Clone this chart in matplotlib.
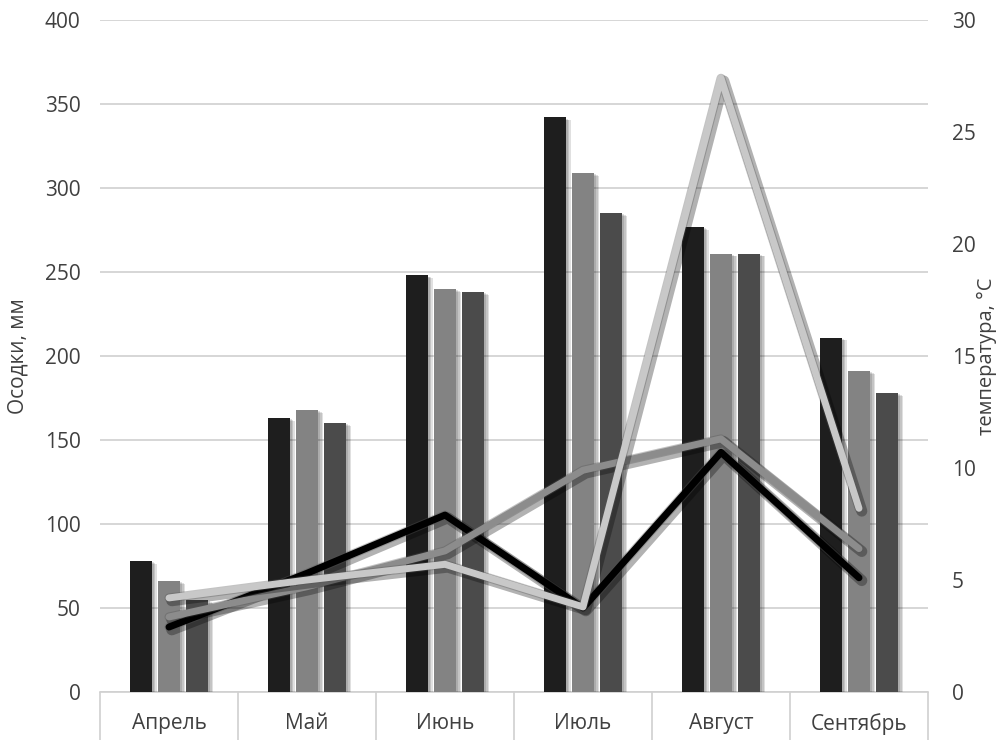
import matplotlib
matplotlib.use("Agg")
import matplotlib.pyplot as plt
import matplotlib.patheffects as pe
import numpy as np

months = ['Апрель', 'Май', 'Июнь', 'Июль', 'Август', 'Сентябрь']
precip_a = [78, 163, 248, 342, 277, 211]
precip_b = [66, 168, 240, 309, 261, 191]
precip_c = [55, 160, 238, 285, 261, 178]
temp_black = [2.9, 5.3, 7.9, 3.75, 10.7, 5.1]
temp_grey = [3.35, 4.7, 6.3, 9.9, 11.3, 6.4]
temp_light = [4.2, 5.0, 5.7, 3.8, 27.4, 8.2]
left_ticks = [0, 50, 100, 150, 200, 250, 300, 350, 400]
right_ticks = [0, 5, 10, 15, 20, 25, 30]

plt.rcParams['font.family'] = ['Open Sans', 'DejaVu Sans']
txt = '#404040'

fig = plt.figure(figsize=(10.04, 7.40), dpi=100)
ax = fig.add_axes([100/1004, 48/740, 828/1004, 672/740])
x = np.arange(len(months))
w = 0.16
step = 0.203
bar_colors = ['#1e1e1e', '#838383', '#4b4b4b']
shadow = [pe.SimplePatchShadow(offset=(o, -o * 0.6), shadow_rgbFace='k', alpha=0.12) for o in (3.5, 2.5, 1.5)] + [pe.Normal()]
for i, (vals, c) in enumerate(zip([precip_a, precip_b, precip_c], bar_colors)):
    ax.bar(x + (i - 1) * step, vals, width=w, color=c, zorder=3, path_effects=shadow)

ax.set_xlim(-0.5, len(months) - 0.5)
ax.set_ylim(0, 400)
ax.set_yticks(left_ticks)
ax.grid(axis='y', color='#d0d0d0', linewidth=1.2, zorder=0)
ax.set_axisbelow(True)
for s in ['left', 'right', 'top']:
    ax.spines[s].set_visible(False)
ax.spines['bottom'].set_color('#d0d0d0')
ax.spines['bottom'].set_linewidth(1.2)
ax.set_xticks(x)
ax.set_xticklabels(months)
ax.set_xticks(np.arange(-0.5, len(months)), minor=True)
ax.tick_params(axis='x', which='major', length=0, pad=15, labelsize=15, labelcolor=txt)
ax.tick_params(axis='x', which='minor', length=36, width=1.2, color='#d0d0d0')
ax.tick_params(axis='y', length=0, pad=14, labelsize=15, labelcolor=txt)
ax.set_ylabel('Осодки, мм', fontsize=15, color=txt, labelpad=12)

ax2 = ax.twinx()
ax2.set_ylim(0, 30)
ax2.set_yticks(right_ticks)
for s in ax2.spines.values():
    s.set_visible(False)
ax2.tick_params(axis='y', length=0, pad=17, labelsize=15, labelcolor=txt)
fig.text(987/1004, (48 + 336)/740, 'температура, °C', fontsize=14.5, color=txt, rotation=90,
         ha='center', va='center')

line_fx = [pe.SimpleLineShadow(offset=(2, -2), shadow_color='k', alpha=0.3, linewidth=8),
           pe.Stroke(linewidth=6.5, foreground='#555555', alpha=0.35), pe.Normal()]
for vals, c in [(temp_black, '#000000'), (temp_grey, '#8c8c8c'), (temp_light, '#c8c8c8')]:
    ax2.plot(x, vals, color=c, linewidth=5, solid_capstyle='round', solid_joinstyle='round',
             path_effects=line_fx, zorder=4)

fig.savefig('out.png', dpi=100)
